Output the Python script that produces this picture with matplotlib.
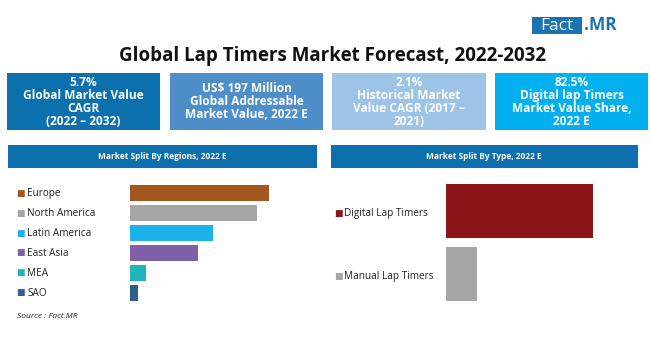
import matplotlib
matplotlib.use("Agg")
import matplotlib.pyplot as plt
from matplotlib.patches import Rectangle
import matplotlib.transforms as mtransforms

W, H = 650, 350

# ---- data ----
title = "Global Lap Timers Market Forecast, 2022-2032"
kpi_texts = [
    "5.7%\nGlobal Market Value\nCAGR\n(2022 – 2032)",
    "US$ 197 Million\nGlobal Addressable\nMarket Value, 2022 E",
    "2.1%\nHistorical Market\nValue CAGR (2017 –\n2021)",
    "82.5%\nDigital lap Timers\nMarket Value Share,\n2022 E",
]
kpi_colors = ["#0b70ad", "#4e8ec9", "#9dc3e6", "#02afef"]

region_title = "Market Split By Regions, 2022 E"
regions = ["Europe", "North America", "Latin America", "East Asia", "MEA", "SAO"]
region_values = [31.5, 28.8, 18.8, 15.4, 3.6, 1.8]
region_colors = ["#a5561f", "#a6a6a6", "#1bb1ea", "#7e60a8", "#1fb5ba", "#2f5d8c"]

type_title = "Market Split By Type, 2022 E"
types = ["Digital Lap Timers", "Manual Lap Timers"]
type_values = [82.5, 17.5]
type_colors = ["#8c1519", "#a6a6a6"]

source = "Source : Fact.MR"

plt.rcParams['font.family'] = ['Open Sans', 'DejaVu Sans']

fig = plt.figure(figsize=(W / 100, H / 100), dpi=100)
fig.patch.set_facecolor("white")


def fx(x):
    return x / W


def fy(y):
    return 1 - y / H


def frect(x0, y0, x1, y1, color):
    fig.patches.append(Rectangle((fx(x0), fy(y1)), fx(x1 - x0), (y1 - y0) / H,
                                 transform=fig.transFigure, facecolor=color,
                                 edgecolor="none", zorder=0))


# logo
frect(532, 17, 582, 34, "#1a74b0")
fig.text(fx(557), fy(25.5), "Fact", color="white", fontsize=12.5, ha="center", va="center")
fig.text(fx(584), fy(25.5), ".MR", color="#1a74b0", fontsize=12.5, fontweight="bold",
         ha="left", va="center")

# title
fig.text(fx(333), fy(55.5), title, fontsize=13.5, fontweight="bold", ha="center", va="center",
         color="#111111")

# KPI boxes
box_x = [(7, 160), (170, 323), (332, 486), (495, 648)]
for (x0, x1), txt, col in zip(box_x, kpi_texts, kpi_colors):
    frect(x0, 73, x1, 130, col)
    fig.text(fx((x0 + x1) / 2), fy(102), txt, color="white", fontsize=8.6,
             fontweight="bold", ha="center", va="center", linespacing=1.0)

# section headers
frect(8, 145, 317, 168, "#0b70ad")
fig.text(fx(162), fy(156.5), region_title, color="white", fontsize=6, fontweight="bold",
         ha="center", va="center")
frect(331, 145, 638, 168, "#0b70ad")
fig.text(fx(484), fy(156.5), type_title, color="white", fontsize=6, fontweight="bold",
         ha="center", va="center")

# left bar chart
axL = fig.add_axes([fx(130), fy(305), fx(317 - 130), 125 / H])
ypos = list(range(len(regions)))
axL.barh(ypos, region_values, height=0.8, color=region_colors)
axL.set_xlim(0, (317 - 130) / (139 / 31.5))
axL.set_ylim(5.6, -0.65)
axL.axis("off")
transL = mtransforms.blended_transform_factory(fig.transFigure, axL.transData)
for y, lab, col in zip(ypos, regions, region_colors):
    axL.text(fx(20), y, "■", transform=transL, color=col, fontsize=6.5, ha="center",
             va="center", family="DejaVu Sans")
    axL.text(fx(27), y, lab, transform=transL, color="#222222", fontsize=7.2,
             ha="left", va="center")

fig.text(fx(17), fy(316), source, fontsize=6, style="italic", color="#222222",
         ha="left", va="center")

# right bar chart
axR = fig.add_axes([fx(446), fy(305), fx(638 - 446), 125 / H])
ypos2 = list(range(len(types)))
axR.barh(ypos2, type_values, height=0.86, color=type_colors)
axR.set_xlim(0, (638 - 446) / (147 / 82.5))
axR.set_ylim(1.5, -0.5)
axR.axis("off")
transR = mtransforms.blended_transform_factory(fig.transFigure, axR.transData)
for y, lab, col in zip(ypos2, types, type_colors):
    axR.text(fx(338.5), y + 0.04, "■", transform=transR, color=col, fontsize=6.5, ha="center",
             va="center", family="DejaVu Sans")
    axR.text(fx(344), y + 0.04, lab, transform=transR, color="#222222", fontsize=7.2,
             ha="left", va="center")

fig.savefig("out.png", dpi=100, facecolor="white")
